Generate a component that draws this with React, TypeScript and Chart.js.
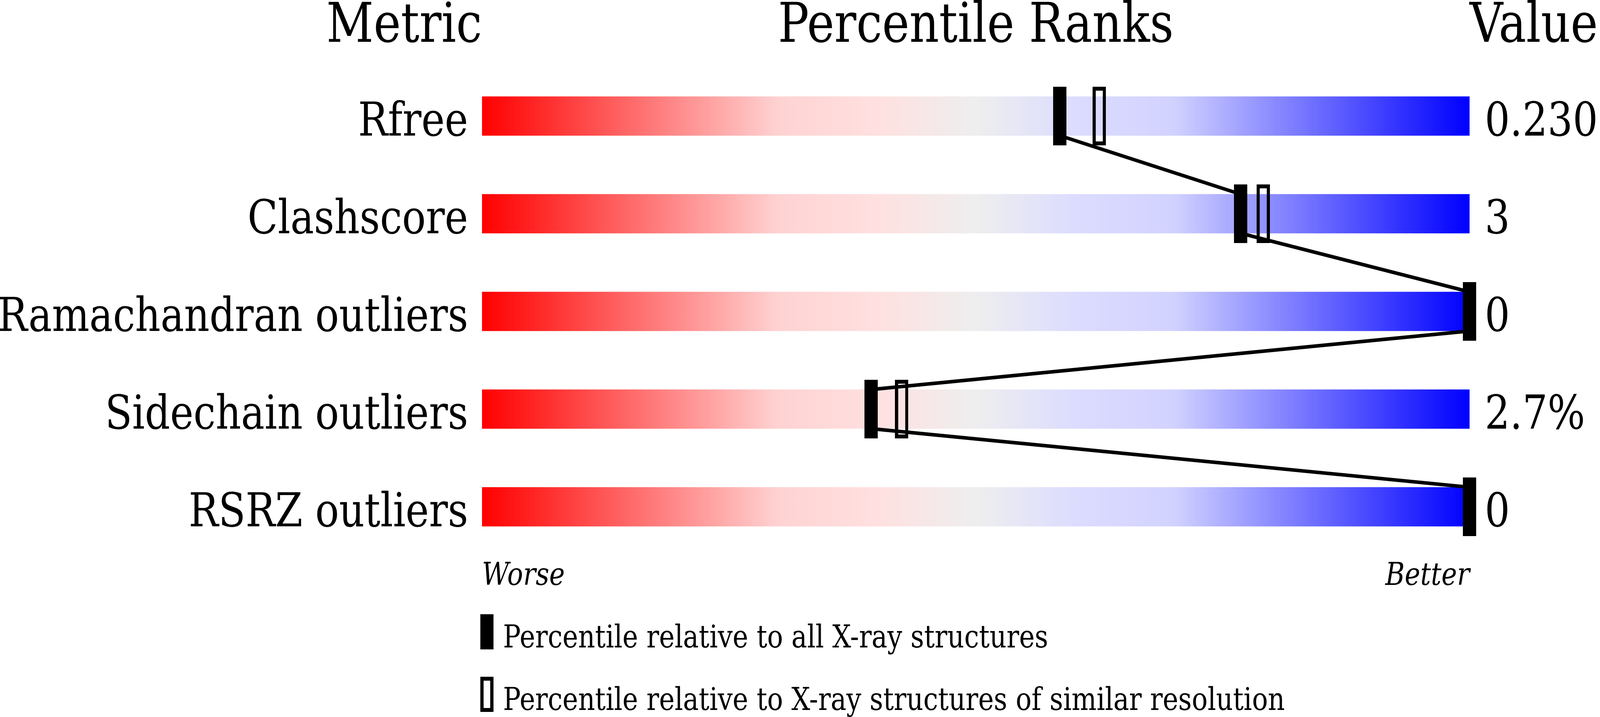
import { useEffect, useRef } from "react";
import { Chart, registerables } from "chart.js";

Chart.register(...registerables);

const metrics = [
  "Rfree",
  "Clashscore",
  "Ramachandran outliers",
  "Sidechain outliers",
  "RSRZ outliers",
];
const valueLabels = ["0.230", "3", "0", "2.7%", "0"];
// percentile vs all X-ray structures (filled marker)
const pctAll = [58.5, 76.8, 100, 39.4, 100];
// percentile vs structures of similar resolution (open marker)
const pctSimilar = [62.5, 79.1, 100, 42.5, 100];
const headers = ["Metric", "Percentile Ranks", "Value"];
const axisEnds = ["Worse", "Better"];
const legendLabels = [
  "Percentile relative to all X-ray structures",
  "Percentile relative to X-ray structures of similar resolution",
];

// reference layout, in pixels of the 4860x1835 picture
const W = 4860;
const H = 1835;
const SERIF = '"DejaVu Serif", serif';
const BAR_HALF = 0.2; // half bar height in row units (100px of 250px)

function makeMarker(w: number, h: number, bx: number, by: number) {
  const c = document.createElement("canvas");
  c.width = Math.round(w);
  c.height = Math.round(h);
  const g = c.getContext("2d")!;
  g.fillStyle = "#000";
  g.fillRect(0, 0, c.width, c.height);
  if (bx > 0) {
    const x = Math.round(bx);
    const y = Math.round(by);
    g.clearRect(x, y, c.width - 2 * x, c.height - 2 * y);
  }
  return c;
}

function makeLabelsPlugin(kx: number, ky: number) {
  return {
    id: "percentileLabels",
    afterDraw(chart: any) {
      const { ctx, scales } = chart;
      const x = scales.x;
      const y = scales.y;
      // work in reference coordinates
      const left = x.getPixelForValue(0) / kx;
      const right = x.getPixelForValue(100) / kx;
      ctx.save();
      ctx.scale(kx, ky);
      ctx.fillStyle = "#000";
      ctx.textBaseline = "alphabetic";

      ctx.font = `140px ${SERIF}`;
      ctx.textAlign = "right";
      ctx.fillText(headers[0], left, 107);
      ctx.textAlign = "center";
      ctx.fillText(headers[1], (left + right) / 2, 107);
      ctx.textAlign = "left";
      ctx.fillText(headers[2], right, 107);

      ctx.font = `120px ${SERIF}`;
      metrics.forEach((m, i) => {
        const base = y.getPixelForValue(i + BAR_HALF) / ky;
        ctx.textAlign = "right";
        ctx.fillText(m, left - 42, base);
        ctx.textAlign = "left";
        ctx.fillText(valueLabels[i], right + 46, base);
      });

      const lastBottom = y.getPixelForValue(metrics.length - 1 + BAR_HALF) / ky;
      ctx.font = `italic 80px ${SERIF}`;
      ctx.textAlign = "left";
      ctx.fillText(axisEnds[0], left, lastBottom + 150);
      ctx.textAlign = "right";
      ctx.fillText(axisEnds[1], right, lastBottom + 150);

      // legend
      ctx.font = `80px ${SERIF}`;
      ctx.textAlign = "left";
      legendLabels.forEach((txt, i) => {
        const top = lastBottom + 225 + i * 160;
        ctx.fillStyle = "#000";
        ctx.fillRect(left - 5, top, 40, 90);
        if (i === 1) ctx.clearRect(left + 5, top + 10, 20, 70);
        ctx.fillText(txt, left + 64, top + 85);
      });
      ctx.restore();
    },
  };
}

export default function App() {
  const canvasRef = useRef<HTMLCanvasElement | null>(null);

  useEffect(() => {
    document.body.style.margin = "0";
    document.body.style.overflow = "hidden";
    const canvas = canvasRef.current;
    if (!canvas) return;

    const cw = window.innerWidth || W;
    const chh = window.innerHeight || H;
    const kx = cw / W;
    const ky = chh / H;
    canvas.width = Math.round(cw);
    canvas.height = Math.round(chh);

    const filled = makeMarker(40 * kx, 150 * ky, 0, 0);
    const open = makeMarker(40 * kx, 150 * ky, 10 * kx, 10 * ky);

    const linePts: { x: number; y: number }[] = [];
    pctAll.forEach((p, i) => {
      if (i > 0) linePts.push({ x: p, y: i - BAR_HALF });
      if (i < pctAll.length - 1) linePts.push({ x: p, y: i + BAR_HALF });
    });

    const chart = new Chart(canvas, {
      data: {
        datasets: [
          {
            type: "bar",
            indexAxis: "y",
            data: metrics.map((_, i) => ({ x: [0, 100], y: i })) as any,
            barThickness: 100 * ky,
            borderWidth: 0,
            order: 4,
            backgroundColor: (c: any) => {
              const { chart: ch } = c;
              if (!ch.chartArea) return "#eeeeee";
              const sx = ch.scales.x;
              const g = ch.ctx.createLinearGradient(
                sx.getPixelForValue(0),
                0,
                sx.getPixelForValue(100),
                0
              );
              g.addColorStop(0, "#ff0000");
              g.addColorStop(0.3, "#ffd2d2");
              g.addColorStop(0.4, "#ffe0e0");
              g.addColorStop(0.5, "#eeeeee");
              g.addColorStop(0.6, "#dcdcff");
              g.addColorStop(0.7, "#d2d2ff");
              g.addColorStop(1, "#0000ff");
              return g;
            },
          } as any,
          {
            type: "scatter",
            data: pctSimilar.map((p, i) => ({ x: p, y: i })),
            pointStyle: open as any,
            clip: false as any,
            order: 3,
          },
          {
            type: "line",
            data: linePts,
            borderColor: "#000",
            borderWidth: 10 * Math.sqrt(kx * ky),
            pointRadius: 0,
            fill: false,
            clip: false as any,
            order: 2,
          },
          {
            type: "scatter",
            data: pctAll.map((p, i) => ({ x: p, y: i })),
            pointStyle: filled as any,
            clip: false as any,
            order: 1,
          },
        ],
      },
      options: {
        responsive: false,
        animation: false,
        layout: {
          padding: {
            left: 1464 * kx,
            right: (W - 4464) * kx,
            top: 47 * ky,
            bottom: (H - 1547) * ky,
          },
        },
        plugins: { legend: { display: false }, tooltip: { enabled: false } },
        scales: {
          x: { type: "linear", min: 0, max: 100, offset: false, display: false },
          y: {
            type: "linear",
            min: -1,
            max: 5,
            reverse: true,
            offset: false,
            display: false,
          },
        },
      },
      plugins: [makeLabelsPlugin(kx, ky)],
    });

    return () => chart.destroy();
  }, []);

  return (
    <div style={{ background: "#fff" }}>
      <canvas ref={canvasRef} style={{ display: "block" }} />
    </div>
  );
}
